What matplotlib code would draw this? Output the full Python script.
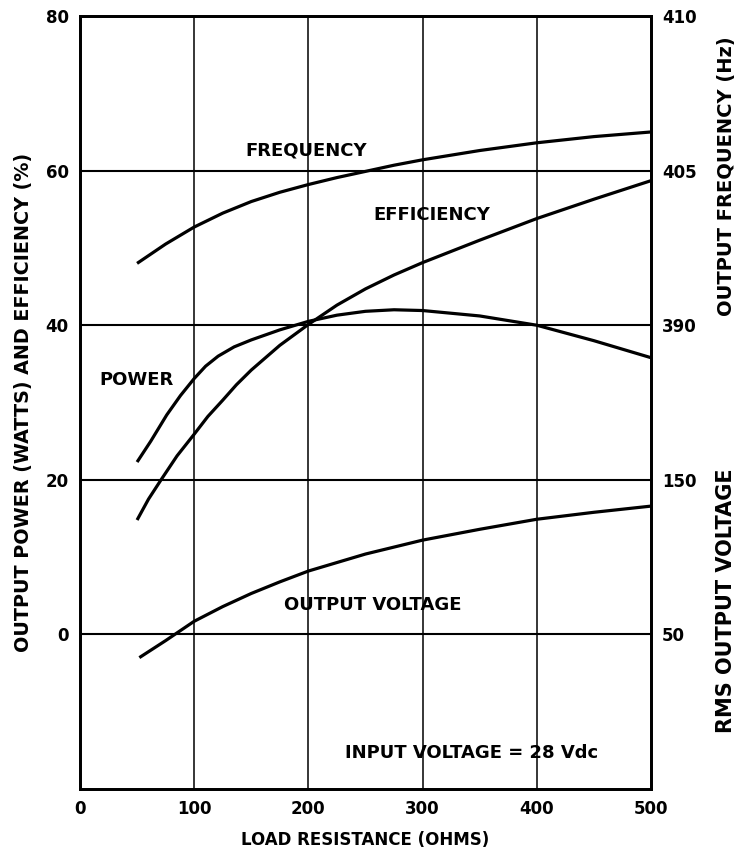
import numpy as np
import matplotlib
matplotlib.use("Agg")
import matplotlib.pyplot as plt

# values, in left-axis units
freq_x = [50, 75, 100, 125, 150, 175, 200, 225, 250, 275, 300, 350, 400, 450, 500]
freq_y = [48.0, 50.5, 52.7, 54.5, 56.0, 57.2, 58.2, 59.1, 59.9, 60.7, 61.4, 62.6, 63.6, 64.4, 65.0]

eff_x = [50, 60, 71, 85, 100, 112, 125, 137, 150, 175, 200, 225, 250, 275, 300, 350, 400, 450, 500]
eff_y = [14.8, 17.5, 20.0, 23.1, 25.9, 28.2, 30.3, 32.3, 34.2, 37.4, 40.1, 42.6, 44.7, 46.5, 48.1, 51.0, 53.8, 56.3, 58.7]

pow_x = [50, 62, 76, 88, 100, 110, 121, 135, 150, 175, 200, 225, 250, 275, 300, 350, 400, 450, 500]
pow_y = [22.3, 25.0, 28.4, 30.9, 33.1, 34.7, 36.0, 37.2, 38.1, 39.4, 40.5, 41.3, 41.8, 42.0, 41.9, 41.2, 40.0, 38.0, 35.8]

volt_x = [52, 75, 100, 125, 150, 175, 200, 250, 300, 350, 400, 450, 500]
volt_y = [-3.0, -0.8, 1.7, 3.6, 5.3, 6.8, 8.2, 10.4, 12.2, 13.6, 14.9, 15.8, 16.6]

x_ticks = [0, 100, 200, 300, 400, 500]
left_ticks = [0, 20, 40, 60, 80]
right_labels = ['50', '150', '390', '405', '410']

FONT = 'DejaVu Sans'
plt.rcParams['font.family'] = FONT
plt.rcParams['font.weight'] = 'bold'
plt.rcParams['axes.labelweight'] = 'bold'

fig = plt.figure(figsize=(7.35, 8.52), dpi=100)
ax = fig.add_axes([0.1088, 0.0739, 0.7769, 0.9073])

lw = 2.3
for xs, ys in [(freq_x, freq_y), (eff_x, eff_y), (pow_x, pow_y), (volt_x, volt_y)]:
    ax.plot(xs, ys, color='black', lw=lw, solid_capstyle='butt', solid_joinstyle='round')

ax.set_xlim(0, 500)
ax.set_ylim(-20, 80)
for v in x_ticks[1:-1]:
    ax.axvline(v, color='black', lw=1.1, zorder=0)
for v in left_ticks[:-1]:
    ax.axhline(v, color='black', lw=1.5, zorder=0)

ax.set_xticks(x_ticks)
ax.set_yticks(left_ticks)
ax.tick_params(length=0, labelsize=12, pad=8)
for s in ax.spines.values():
    s.set_linewidth(2)

ax2 = ax.twinx()
ax2.set_ylim(ax.get_ylim())
ax2.set_yticks(left_ticks)
ax2.set_yticklabels(right_labels)
ax2.tick_params(length=0, labelsize=12, pad=8)
for s in ax2.spines.values():
    s.set_linewidth(2)

ax.set_xlabel('LOAD RESISTANCE (OHMS)', fontsize=12, labelpad=9)
ax.set_ylabel('OUTPUT POWER (WATTS) AND EFFICIENCY (%)', fontsize=13.8, labelpad=9)

# right side axis titles
fig.text(0.988, 0.793, 'OUTPUT FREQUENCY (Hz)', rotation=90, fontsize=14,
         ha='center', va='center')
fig.text(0.988, 0.295, 'RMS OUTPUT VOLTAGE', rotation=90, fontsize=15,
         ha='center', va='center')

ax.text(145, 62.6, 'FREQUENCY', fontsize=13, va='center')
ax.text(257, 54.2, 'EFFICIENCY', fontsize=13, va='center')
ax.text(17, 32.9, 'POWER', fontsize=13, va='center')
ax.text(179, 3.75, 'OUTPUT VOLTAGE', fontsize=13, va='center')
ax.text(232, -15.4, 'INPUT VOLTAGE = 28 Vdc', fontsize=13, va='center')

fig.savefig('out.png', dpi=100)
